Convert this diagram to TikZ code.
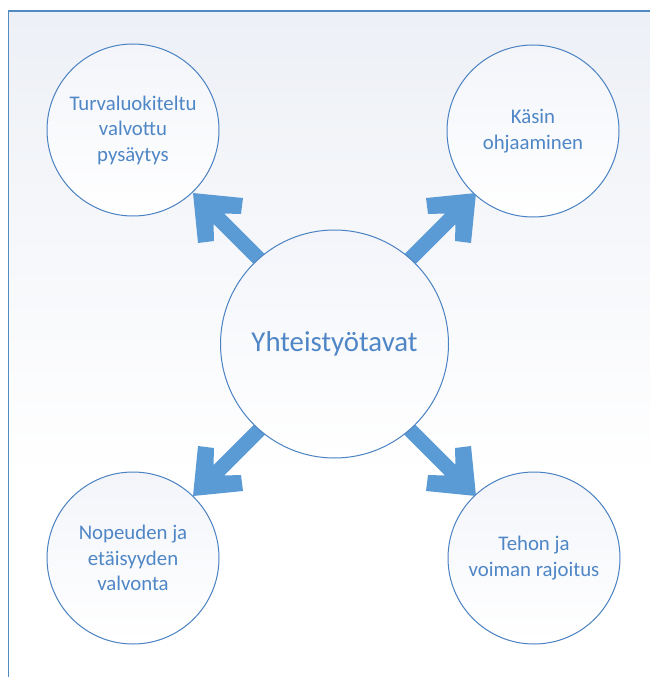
\documentclass[tikz,border=0pt]{standalone}
\usepackage{fontspec}
\setmainfont{Carlito}
\definecolor{arrowblue}{HTML}{5B9BD5}
\definecolor{lineblue}{HTML}{4A82C2}
\definecolor{textblue}{HTML}{4F86C6}
\definecolor{bgtop}{HTML}{EDF0F6}
\definecolor{ringtop}{HTML}{F3F5FA}
\tikzset{
  outer/.style={draw=lineblue, line width=1pt, circle, minimum size=172pt, inner sep=0pt,
    top color=ringtop, bottom color=white, align=center, text=textblue,
    font=\fontsize{20.8}{25.5}\selectfont},
  hub/.style={outer, minimum size=228pt, font=\fontsize{28.8}{34}\selectfont},
  blockarrow/.style={fill=arrowblue}
}
\begin{document}
\begin{tikzpicture}[x=1pt,y=-1pt]
\useasboundingbox (0,0) rectangle (650,677);
\fill[white] (0,0) rectangle (650,677);
\shade[top color=bgtop, bottom color=white] (8.5,11) rectangle (650,480);
\draw[arrowblue!90!black, line width=1.3pt] (8.5,677) -- (8.5,11) -- (650,11);

% arrow tips
\coordinate (a1) at (193,193);
\coordinate (a2) at (476,193);
\coordinate (a3) at (193,496);
\coordinate (a4) at (476,496);

\path[blockarrow, shift={(a1)}] (0,0) -- (50,5) -- (48,21) -- (31,20.5) -- (91,80.5) -- (80.5,91) -- (20.5,31) -- (21,48) -- (5,50) -- cycle;
\path[blockarrow, shift={(a2)}, xscale=-1] (0,0) -- (50,5) -- (48,21) -- (31,20.5) -- (91,80.5) -- (80.5,91) -- (20.5,31) -- (21,48) -- (5,50) -- cycle;
\path[blockarrow, shift={(a3)}, yscale=-1] (0,0) -- (50,5) -- (48,21) -- (31,20.5) -- (91,80.5) -- (80.5,91) -- (20.5,31) -- (21,48) -- (5,50) -- cycle;
\path[blockarrow, shift={(a4)}, xscale=-1, yscale=-1] (0,0) -- (50,5) -- (48,21) -- (31,20.5) -- (91,80.5) -- (80.5,91) -- (20.5,31) -- (21,48) -- (5,50) -- cycle;

\node[hub] (centre) at (334.5,344) {Yhteistyötavat};
\node[outer] (turva) at (133,130) {Turvaluokiteltu\\valvottu\\pysäytys};
\node[outer] (kasin) at (533,131) {Käsin\\ohjaaminen};
\node[outer] (nopeus) at (133,558) {Nopeuden ja\\etäisyyden\\valvonta};
\node[outer] (teho) at (534,558) {Tehon ja\\voiman rajoitus};

\end{tikzpicture}
\end{document}
